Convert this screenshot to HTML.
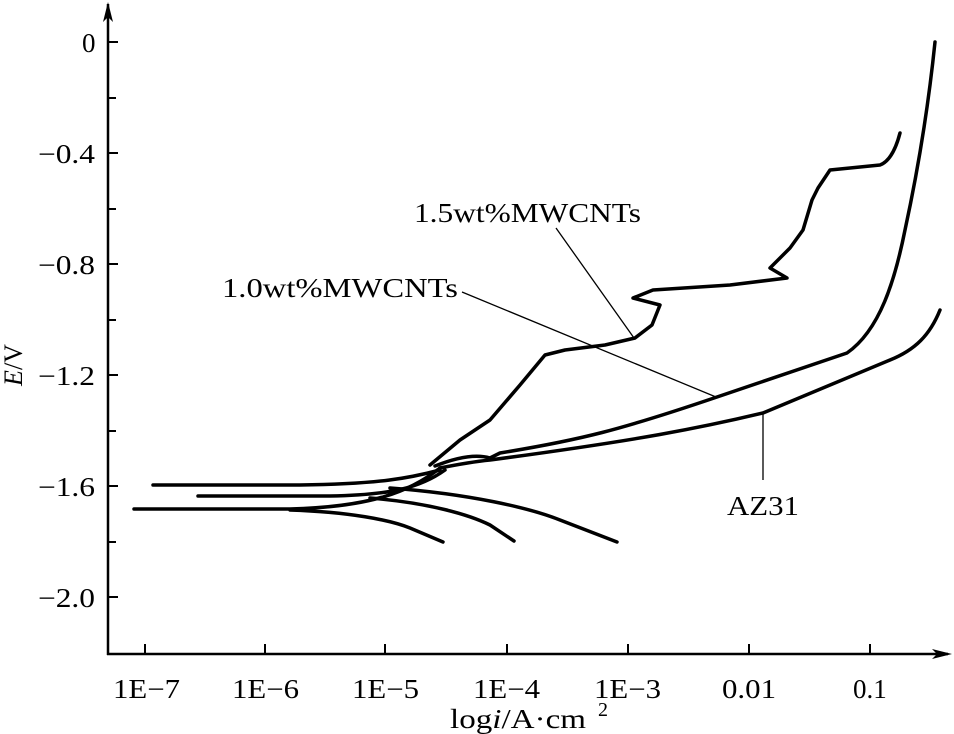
<!DOCTYPE html>
<html><head><style>
body{margin:0;background:#fff}
svg{display:block}
text{font-family:"Liberation Serif",serif;fill:#000}
</style></head><body>
<svg width="954" height="734" viewBox="0 0 954 734">
<g stroke="#000" stroke-width="2.5" fill="none">
<line x1="108" y1="4" x2="108" y2="655"/>
<line x1="107" y1="654" x2="948" y2="654"/>
</g>
<path d="M108,2 L103,22 L108,17 L113,22 Z" fill="#000"/>
<path d="M952,654 L932,649 L937,654 L932,659 Z" fill="#000"/>
<g stroke="#000" stroke-width="2">
<line x1="108" y1="42" x2="118" y2="42"/><line x1="108" y1="98" x2="116" y2="98"/>
<line x1="108" y1="153" x2="118" y2="153"/><line x1="108" y1="209" x2="116" y2="209"/>
<line x1="108" y1="264" x2="118" y2="264"/><line x1="108" y1="320" x2="116" y2="320"/>
<line x1="108" y1="375" x2="118" y2="375"/><line x1="108" y1="431" x2="116" y2="431"/>
<line x1="108" y1="486" x2="118" y2="486"/><line x1="108" y1="542" x2="116" y2="542"/>
<line x1="108" y1="597" x2="118" y2="597"/>
<line x1="145" y1="654" x2="145" y2="644"/><line x1="265" y1="654" x2="265" y2="644"/>
<line x1="385" y1="654" x2="385" y2="644"/><line x1="507" y1="654" x2="507" y2="644"/>
<line x1="628" y1="654" x2="628" y2="644"/><line x1="749" y1="654" x2="749" y2="644"/>
<line x1="870" y1="654" x2="870" y2="644"/>
</g>
<g font-size="27">
<text x="82" y="52">0</text>
<text x="38" y="163" textLength="57" lengthAdjust="spacingAndGlyphs">−0.4</text>
<text x="38" y="274" textLength="57" lengthAdjust="spacingAndGlyphs">−0.8</text>
<text x="38" y="385" textLength="57" lengthAdjust="spacingAndGlyphs">−1.2</text>
<text x="38" y="496" textLength="57" lengthAdjust="spacingAndGlyphs">−1.6</text>
<text x="38" y="607" textLength="57" lengthAdjust="spacingAndGlyphs">−2.0</text>
</g>
<g font-size="27">
<text x="113" y="698" textLength="67" lengthAdjust="spacingAndGlyphs">1E−7</text>
<text x="232" y="698" textLength="67" lengthAdjust="spacingAndGlyphs">1E−6</text>
<text x="352" y="698" textLength="67" lengthAdjust="spacingAndGlyphs">1E−5</text>
<text x="473" y="698" textLength="67" lengthAdjust="spacingAndGlyphs">1E−4</text>
<text x="594" y="698" textLength="67" lengthAdjust="spacingAndGlyphs">1E−3</text>
<text x="722" y="698" textLength="54" lengthAdjust="spacingAndGlyphs">0.01</text>
<text x="853" y="698">0.1</text>
<text x="450" y="728" textLength="136" lengthAdjust="spacingAndGlyphs">log<tspan font-style="italic">i</tspan>/A·cm</text>
<text x="598" y="716" font-size="20">2</text>
</g>
<text transform="translate(22,365) rotate(-90)" font-size="26" text-anchor="middle"><tspan font-style="italic">E</tspan>/V</text>
<g font-size="27">
<text x="414" y="222" textLength="227" lengthAdjust="spacingAndGlyphs">1.5wt%MWCNTs</text>
<text x="222" y="297" textLength="236" lengthAdjust="spacingAndGlyphs">1.0wt%MWCNTs</text>
<text x="727" y="515" textLength="72" lengthAdjust="spacingAndGlyphs">AZ31</text>
</g>
<g stroke="#000" stroke-width="1.3" fill="none">
<line x1="556" y1="228" x2="634" y2="338"/>
<line x1="462" y1="292" x2="716" y2="397"/>
<line x1="763" y1="413" x2="763" y2="480"/>
</g>
<g stroke="#000" stroke-width="3.5" fill="none" stroke-linejoin="round" stroke-linecap="round">
<path d="M153,485 L300,485 C380,484 410,478 440,470"/>
<path d="M198,496 L330,496 C390,495 420,488 445,470"/>
<path d="M134,509 L290,509 C370,507 410,492 440,468"/>
<path d="M290,510 C350,512 390,520 410,528 L443,542"/>
<path d="M370,498 C430,503 470,515 490,525 L514,541"/>
<path d="M390,488 C470,494 530,508 560,520 L617,542"/>
<path d="M430,465 L460,440 L490,420 L520,385 L545,355 L565,350 L605,345 L635,338 L652,325 L660,305 L633,298 L653,290 L730,285 L787,278 L770,268 L790,248 L803,230 L812,200 L818,188 L830,170 L880,165 Q893,160 900,133"/>
<path d="M435,466 Q470,452 490,458 L500,453 C580,440 620,430 717,397 L847,353 C880,330 895,280 905,230 C918,170 928,110 935,42"/>
<path d="M440,468 Q470,462 490,460 C640,440 700,428 763,413 L890,360 C915,350 930,335 940,310"/>
</g>
</svg>
</body></html>
